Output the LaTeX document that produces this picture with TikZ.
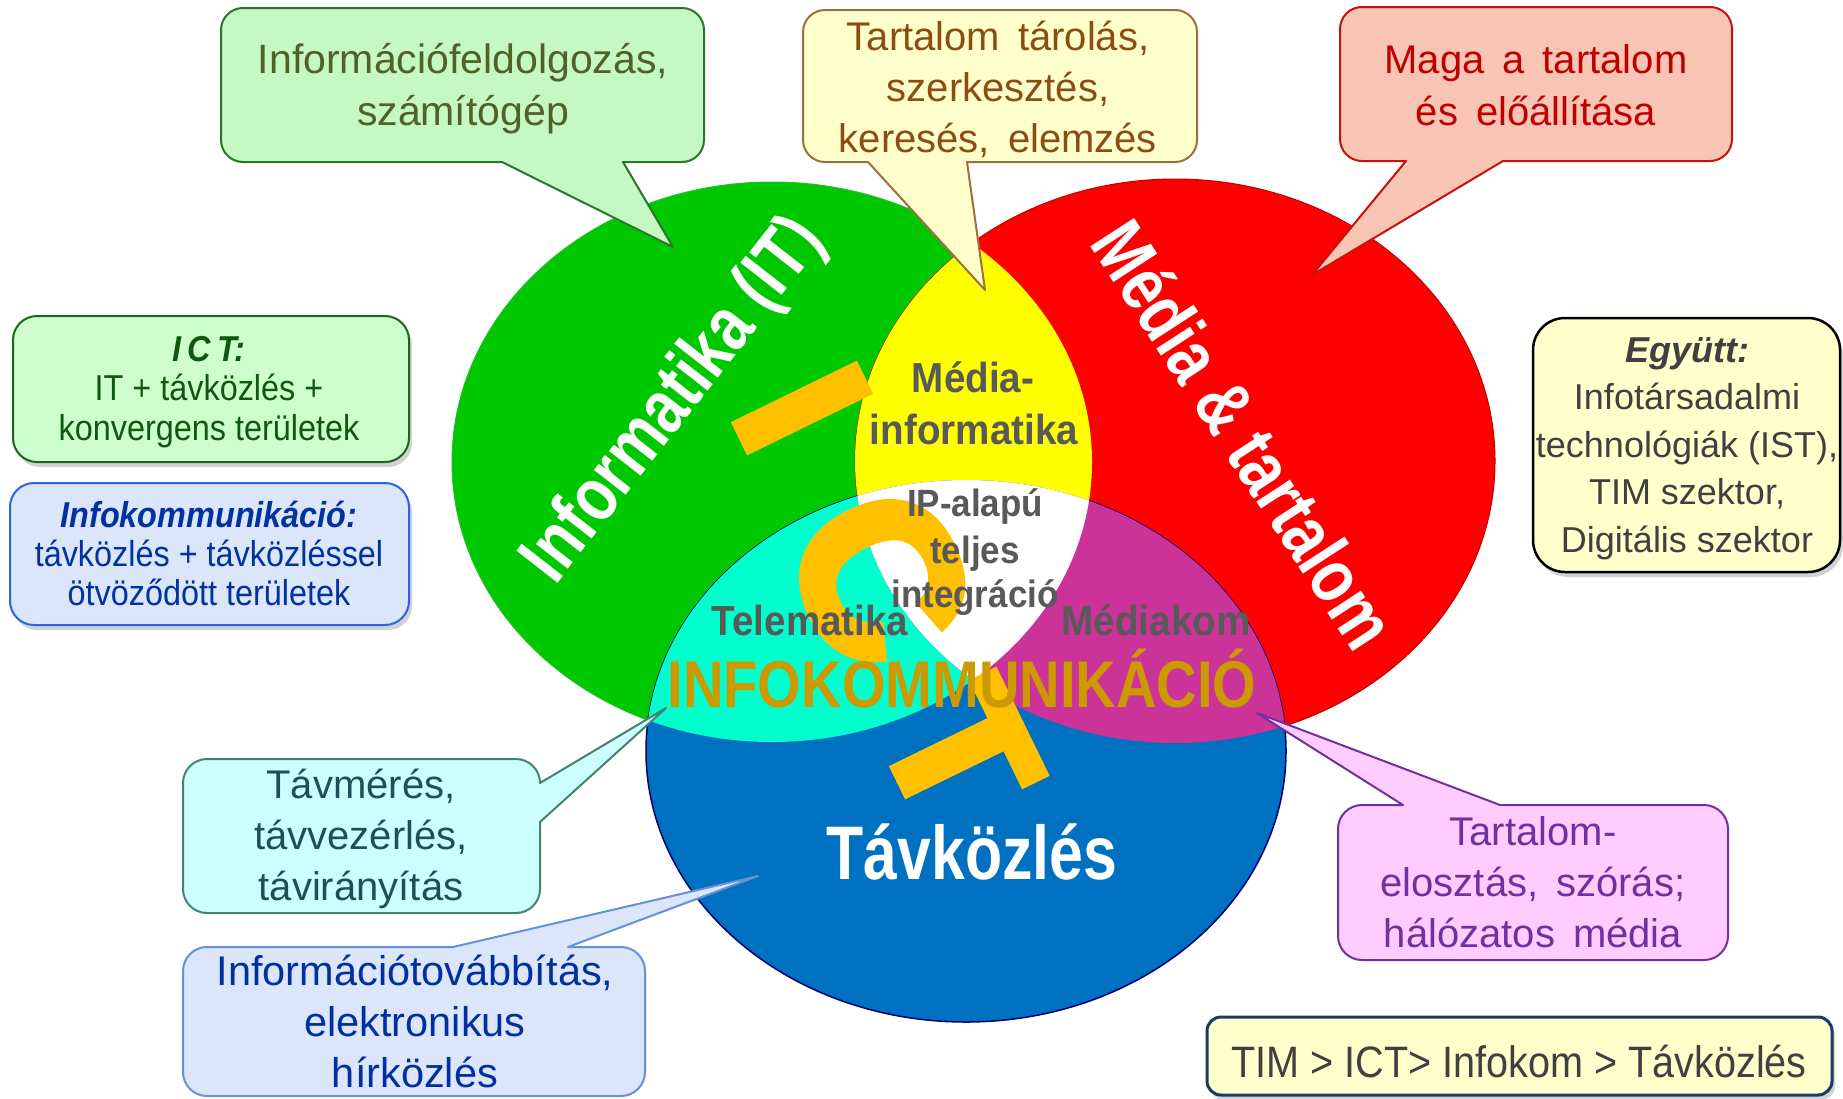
\documentclass[tikz,border=0pt]{standalone}
\usepackage{fontspec}
\setmainfont{Liberation Sans}
\newfontfamily\fCirc[FakeStretch=0.8]{Liberation Sans}
\newfontfamily\fGray[FakeStretch=0.92]{Liberation Sans}
\newfontfamily\fInfo[FakeStretch=0.85]{Liberation Sans}
\newfontfamily\fNarrow[FakeStretch=0.9]{Liberation Sans}
\newfontfamily\fICT[FakeBold=5]{Liberation Sans}
\usetikzlibrary{shadows}

\definecolor{cGreen}{RGB}{0,200,0}
\definecolor{cGreenEdge}{RGB}{40,190,40}
\definecolor{cRed}{RGB}{255,0,0}
\definecolor{cBlue}{RGB}{0,112,192}
\definecolor{cYellow}{RGB}{255,255,0}
\definecolor{cCyan}{RGB}{0,255,204}
\definecolor{cMagenta}{RGB}{204,51,153}
\definecolor{cGray}{RGB}{89,89,89}
\definecolor{cGold}{RGB}{204,153,0}
\definecolor{cOrange}{RGB}{255,192,0}

\definecolor{b1f}{RGB}{198,248,196}\definecolor{b1d}{RGB}{40,120,40}\definecolor{b1t}{RGB}{79,98,40}
\definecolor{b2f}{RGB}{255,255,204}\definecolor{b2d}{RGB}{160,110,60}\definecolor{b2t}{RGB}{140,76,20}
\definecolor{b3f}{RGB}{248,196,180}\definecolor{b3d}{RGB}{200,16,16}\definecolor{b3t}{RGB}{192,0,0}
\definecolor{b4f}{RGB}{255,255,204}\definecolor{b4d}{RGB}{0,0,0}\definecolor{b4t}{RGB}{64,64,64}
\definecolor{b5f}{RGB}{204,255,204}\definecolor{b5d}{RGB}{30,100,30}\definecolor{b5t}{RGB}{16,88,16}
\definecolor{b6f}{RGB}{220,230,250}\definecolor{b6d}{RGB}{40,100,230}\definecolor{b6t}{RGB}{0,51,160}
\definecolor{b7f}{RGB}{204,255,255}\definecolor{b7d}{RGB}{70,130,110}\definecolor{b7t}{RGB}{31,80,90}
\definecolor{b8f}{RGB}{220,230,250}\definecolor{b8d}{RGB}{100,145,215}\definecolor{b8t}{RGB}{0,48,160}
\definecolor{b9f}{RGB}{255,204,255}\definecolor{b9d}{RGB}{112,48,160}\definecolor{b9t}{RGB}{112,48,160}
\definecolor{bAf}{RGB}{255,255,204}\definecolor{bAd}{RGB}{31,56,100}\definecolor{bAt}{RGB}{64,64,64}

\newcommand\ws{\hspace{0.45em}}

% callout with pointer on bottom edge: style, x1, y1, x2, y2, r, pL, pR, tip
\newcommand\calloutS[9]{%
  \draw[#1] (#7,-#5) -- (#9) -- (#8,-#5) -- ({#4-#6},-#5)
    arc[start angle=-90, end angle=0, radius=#6]
    -- (#4,{-#3-#6}) arc[start angle=0, end angle=90, radius=#6]
    -- ({#2+#6},-#3) arc[start angle=90, end angle=180, radius=#6]
    -- (#2,{-#5+#6}) arc[start angle=180, end angle=270, radius=#6]
    -- cycle;}
% pointer on top edge
\newcommand\calloutN[9]{%
  \draw[#1] (#8,-#3) -- (#9) -- (#7,-#3) -- ({#2+#6},-#3)
    arc[start angle=90, end angle=180, radius=#6]
    -- (#2,{-#5+#6}) arc[start angle=180, end angle=270, radius=#6]
    -- ({#4-#6},-#5) arc[start angle=270, end angle=360, radius=#6]
    -- (#4,{-#3-#6}) arc[start angle=0, end angle=90, radius=#6]
    -- cycle;}
% pointer on right edge: #7 upper y, #8 lower y
\newcommand\calloutE[9]{%
  \draw[#1] (#4,-#7) -- (#9) -- (#4,-#8) -- (#4,{-#5+#6})
    arc[start angle=0, end angle=-90, radius=#6]
    -- ({#2+#6},-#5) arc[start angle=270, end angle=180, radius=#6]
    -- (#2,{-#3-#6}) arc[start angle=180, end angle=90, radius=#6]
    -- ({#4-#6},-#3) arc[start angle=90, end angle=0, radius=#6]
    -- cycle;}

\begin{document}
\begin{tikzpicture}[x=1pt,y=1pt,
  call/.style={line width=2pt, line join=round},
  plainbox/.style={line width=2pt, inner sep=0pt, drop shadow={shadow xshift=3pt, shadow yshift=-5pt, opacity=0.35}},
  txt/.style={align=center, inner sep=0pt},
  circ/.style={font=\fCirc\bfseries\fontsize{76}{76}\selectfont, text=white, inner sep=0pt},
  graylbl/.style={font=\fGray\bfseries\fontsize{42}{42}\selectfont, text=cGray, inner sep=0pt, anchor=base},
  iplbl/.style={font=\fGray\bfseries\fontsize{38}{38}\selectfont, text=cGray, inner sep=0pt, anchor=base},
  ict/.style={font=\fICT\bfseries\fontsize{190}{190}\selectfont, text=cOrange, inner sep=0pt, anchor=center}
]
\useasboundingbox (0,0) rectangle (1843,-1098);
\fill[white] (0,0) rectangle (1843,-1098);

\def\GreenE{(772,-462) ellipse [x radius=320pt, y radius=280pt]}
\def\RedE{(1175,-461) ellipse [x radius=320pt, y radius=282pt]}
\def\BlueE{(966,-751) ellipse [x radius=320pt, y radius=271pt]}

% circles
\filldraw[fill=cGreen, draw=cGreenEdge, line width=1pt] \GreenE;
\filldraw[fill=cRed, draw=red!75!black, line width=1pt] \RedE;
\filldraw[fill=cBlue, draw=blue!45!black, line width=1.5pt] \BlueE;
% intersections
\begin{scope}\clip \GreenE; \fill[cYellow] \RedE; \end{scope}
\begin{scope}\clip \GreenE; \fill[cCyan] \BlueE; \end{scope}
\begin{scope}\clip \RedE; \fill[cMagenta] \BlueE; \end{scope}
\begin{scope}\clip \GreenE; \clip \RedE; \fill[white] \BlueE; \end{scope}

% big ICT letters
\node[ict, rotate=-64] (ictI) at (802,-408) {I};
\node[ict, rotate=-64, font=\fICT\bfseries\fontsize{215}{215}\selectfont] (ictC) at (880,-577) {C};
\node[ict, rotate=-64] (ictT) at (960,-752) {T};

% circle labels
\node[circ, rotate=52] (lblIT) at (675,-401) {Informatika (IT)};
\node[circ, rotate=-57] (lblMT) at (1245,-434) {Média \& tartalom};
\node[circ, anchor=base] (lblTK) at (972,-879) {Távközlés};

% region labels
\node[graylbl] (lMI1) at (973,-392) {Média-};
\node[graylbl] (lMI2) at (974,-444) {informatika};
\node[iplbl] (lIP1) at (975,-516) {IP-alapú};
\node[iplbl] (lIP2) at (975,-563) {teljes};
\node[iplbl] (lIP3) at (975,-607) {integráció};
\node[graylbl] (lTel) at (810,-635) {Telematika};
\node[graylbl] (lMk) at (1156,-635) {Médiakom};
\node[anchor=base, inner sep=0pt, font=\fInfo\bfseries\fontsize{66}{66}\selectfont, text=cGold] (lInfo) at (962,-707) {INFOKOMMUNIKÁCIÓ};

% callout tips
\coordinate (tip1) at (673,-247);
\coordinate (tip2) at (985,-290);
\coordinate (tip3) at (1312,-275);
\coordinate (tip7) at (666,-708);
\coordinate (tip8) at (758,-876);
\coordinate (tip9) at (1257,-713);

% callouts
\calloutS{call, fill=b1f, draw=b1d}{221}{8}{704}{162}{22}{502}{623}{tip1}
\node[txt, text=b1t, font=\fontsize{41}{52}\selectfont] (t1) at (463,-88.6) {\strut Információfeldolgozás,\\\strut számítógép};

\calloutS{call, fill=b2f, draw=b2d}{803}{10}{1197}{162}{22}{868}{967}{tip2}
\node[txt, text=b2t, font=\fontsize{40}{51}\selectfont] (t2) at (998,-90.8) {\strut Tartalom\ws tárolás,\\\strut szerkesztés,\\\strut keresés,\ws elemzés};

\calloutS{call, fill=b3f, draw=b3d}{1340}{7}{1732}{161}{22}{1406}{1503}{tip3}
\node[txt, text=b3t, font=\fontsize{40}{52}\selectfont] (t3) at (1536,-88.6) {\strut Maga\ws a\ws tartalom\\\strut és\ws előállítása};

\calloutE{call, fill=b7f, draw=b7d}{183}{759}{540}{913}{24}{783}{822}{tip7}
\node[txt, text=b7t, font=\fontsize{40}{51}\selectfont] (t7) at (361,-838.8) {\strut Távmérés,\\\strut távvezérlés,\\\strut távirányítás};

\calloutN{call, fill=b8f, draw=b8d}{183}{947}{645}{1096}{24}{453}{568}{tip8}
\node[txt, text=b8t, font=\fontsize{41.5}{51}\selectfont] (t8) at (415,-1025.8) {\strut Információtovábbítás,\\\strut elektronikus\\\strut hírközlés};

\calloutN{call, fill=b9f, draw=b9d}{1338}{805}{1728}{960}{24}{1403}{1500}{tip9}
\node[txt, text=b9t, font=\fontsize{40}{51}\selectfont] (t9) at (1533,-885.8) {\strut Tartalom-\\\strut elosztás,\ws szórás;\\\strut hálózatos\ws média};

% plain boxes with shadows
\node[plainbox, fill=b5f, draw=b5d, rounded corners=24pt, minimum width=396pt, minimum height=146pt] (b5) at (211,-389) {};
\node[txt, text=b5t, font=\fNarrow\fontsize{36}{39.5}\selectfont] (t5) at (209,-392.6) {\strut{\bfseries\itshape I\,C\,T:}\\\strut IT + távközlés +\\\strut konvergens területek};

\node[plainbox, fill=b6f, draw=b6d, rounded corners=24pt, minimum width=399pt, minimum height=142pt] (b6) at (209.5,-554) {};
\node[txt, text=b6t, font=\fNarrow\fontsize{36}{39}\selectfont] (t6) at (209,-558.2) {\strut{\bfseries\itshape Infokommunikáció:}\\\strut távközlés + távközléssel\\\strut ötvöződött területek};

\node[plainbox, fill=b4f, draw=b4d, line width=2.5pt, rounded corners=32pt, minimum width=307pt, minimum height=254pt] (b4) at (1686.5,-445) {};
\node[txt, text=b4t, font=\fontsize{36}{47.5}\selectfont] (t4) at (1687,-447.5) {\strut{\bfseries\itshape Együtt:}\\\strut Infotársadalmi\\\strut technológiák (IST),\\\strut TIM szektor,\\\strut Digitális szektor};

\node[plainbox, fill=bAf, draw=bAd, line width=3pt, rounded corners=14pt, minimum width=625pt, minimum height=78pt] (b10) at (1519.5,-1056) {};
\node[anchor=base, inner sep=0pt, text=bAt, font=\fNarrow\fontsize{44}{44}\selectfont] (t10) at (1519,-1077) {TIM > ICT> Infokom > Távközlés};
\end{tikzpicture}
\end{document}
